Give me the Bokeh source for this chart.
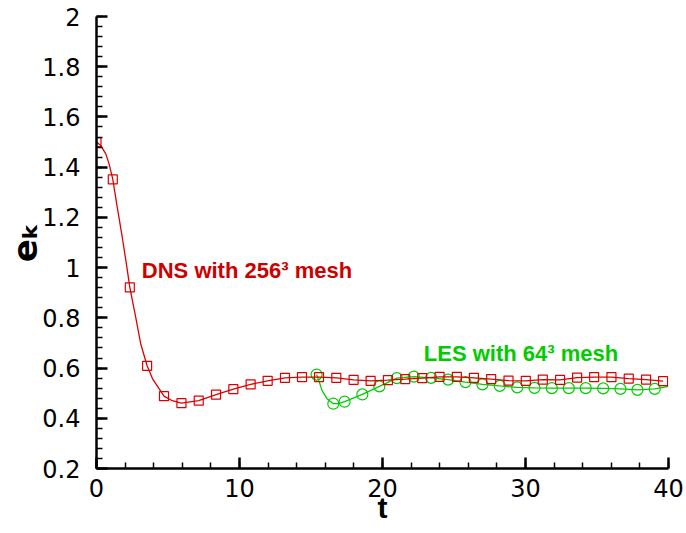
from bokeh.plotting import figure
from bokeh.models import FixedTicker, CustomJSTickFormatter, Label, Range1d
from bokeh.embed import file_html
from bokeh.resources import INLINE

# DNS (256^3) markers
dns_t = [0.0, 1.14, 2.33, 3.54, 4.72, 5.94, 7.15, 8.36, 9.57, 10.78, 11.97, 13.18,
         14.37, 15.56, 16.77, 17.98, 19.17, 20.38, 21.59, 22.78, 23.99, 25.20, 26.39,
         27.60, 28.81, 30.02, 31.21, 32.42, 33.61, 34.80, 36.01, 37.22, 38.43, 39.62]
dns_e = [1.500, 1.351, 0.921, 0.609, 0.488, 0.460, 0.470, 0.494, 0.516, 0.535, 0.549, 0.561,
         0.564, 0.564, 0.561, 0.553, 0.549, 0.552, 0.556, 0.560, 0.565, 0.565, 0.561,
         0.556, 0.550, 0.549, 0.554, 0.553, 0.562, 0.564, 0.564, 0.558, 0.554, 0.548]

# DNS curve (denser at the start)
dns_line_t = [0.0, 0.30, 0.65, 0.88, 1.14, 1.45, 1.80, 2.09, 2.33, 2.74, 3.09, 3.54, 3.92,
              4.72, 5.30, 5.94, 7.15, 8.36, 9.57, 10.78, 11.97, 13.18, 14.37, 15.56, 16.77,
              17.98, 19.17, 20.38, 21.59, 22.78, 23.99, 25.20, 26.39, 27.60, 28.81, 30.02,
              31.21, 32.42, 33.61, 34.80, 36.01, 37.22, 38.43, 39.62]
dns_line_e = [1.500, 1.486, 1.453, 1.413, 1.351, 1.241, 1.121, 1.015, 0.921, 0.803, 0.697,
              0.609, 0.557, 0.488, 0.470, 0.460, 0.470, 0.494, 0.516, 0.535, 0.549, 0.561,
              0.564, 0.564, 0.561, 0.553, 0.549, 0.552, 0.556, 0.560, 0.565, 0.565, 0.561,
              0.556, 0.550, 0.549, 0.554, 0.553, 0.562, 0.564, 0.564, 0.558, 0.554, 0.548]

# LES (64^3) markers
les_t = [15.39, 16.56, 17.35, 18.59, 19.78, 21.00, 22.19, 23.40, 24.59, 25.80, 26.99,
         28.20, 29.42, 30.63, 31.84, 33.03, 34.21, 35.43, 36.64, 37.83, 39.04]
les_e = [0.574, 0.458, 0.466, 0.495, 0.527, 0.560, 0.566, 0.561, 0.554, 0.544, 0.535,
         0.529, 0.523, 0.521, 0.520, 0.520, 0.520, 0.519, 0.517, 0.513, 0.517]

# LES curve
les_line_t = [15.39, 15.55, 15.77, 16.12, 16.56, 16.90, 17.35, 18.59, 19.78, 21.00, 22.19,
              23.40, 24.59, 25.80, 26.99, 28.20, 29.42, 30.63, 31.84, 33.03, 34.21, 35.43,
              36.64, 37.83, 39.04, 40.0]
les_line_e = [0.574, 0.550, 0.511, 0.478, 0.458, 0.458, 0.466, 0.495, 0.527, 0.560, 0.566,
              0.561, 0.554, 0.544, 0.535, 0.529, 0.523, 0.521, 0.520, 0.520, 0.520, 0.519,
              0.517, 0.513, 0.517, 0.527]

x_major = [0, 10, 20, 30, 40]
x_minor = [v for v in range(0, 41, 2)]
y_major = [0.2, 0.4, 0.6, 0.8, 1.0, 1.2, 1.4, 1.6, 1.8, 2.0]
y_minor = [round(0.2 + 0.04 * i, 2) for i in range(46)]

x_title = "t"
y_title = "e\u2096"

RED = "#dd0000"
GREEN = "#00cc00"
FONT = "Liberation Sans"
TICK_FONT = "DejaVu Sans"

p = figure(width=685, height=532, output_backend="svg", toolbar_location=None,
           x_range=Range1d(0, 40), y_range=Range1d(0.2, 2.0),
           min_border_left=96, min_border_right=17, min_border_top=16, min_border_bottom=64)
p.outline_line_color = None
p.xgrid.visible = False
p.ygrid.visible = False

for ax in (p.xaxis[0], p.yaxis[0]):
    ax.axis_line_width = 2.5
    ax.axis_line_color = "black"
    ax.major_tick_in = 11
    ax.major_tick_out = 0
    ax.minor_tick_in = 6
    ax.minor_tick_out = 0
    ax.major_tick_line_width = 2.5
    ax.minor_tick_line_width = 1.5
    ax.major_label_text_font = TICK_FONT
    ax.major_label_text_font_size = "24px"
    ax.major_label_text_color = "black"
    ax.axis_label_text_font_style = "bold"
    ax.axis_label_text_color = "black"

p.xaxis.ticker = FixedTicker(ticks=x_major, minor_ticks=x_minor)
p.yaxis.ticker = FixedTicker(ticks=y_major, minor_ticks=y_minor)
p.yaxis.formatter = CustomJSTickFormatter(code="return tick.toFixed(1).replace(/\\.0$/, '');")
p.xaxis.formatter = CustomJSTickFormatter(code="return tick.toFixed(0);")
p.xaxis.major_label_standoff = 10
p.yaxis.major_label_standoff = 16

p.xaxis.axis_label = x_title
p.xaxis.axis_label_text_font = FONT
p.xaxis.axis_label_text_font_size = "30px"
p.xaxis.axis_label_standoff = -9

p.yaxis.axis_label = y_title
p.yaxis.axis_label_text_font = "DejaVu Sans"
p.yaxis.axis_label_text_font_size = "34px"
p.yaxis.axis_label_standoff = -6

# curves
p.line(les_line_t, les_line_e, line_color=GREEN, line_width=1.3)
p.scatter(les_t, les_e, marker="circle", size=11, fill_color=None, line_color=GREEN, line_width=1.2)
p.line(dns_line_t, dns_line_e, line_color=RED, line_width=1.3)
p.scatter(dns_t, dns_e, marker="square", size=9, fill_color=None, line_color=RED, line_width=1.2)

# annotations
p.add_layout(Label(x=3.17, y=0.989, text="DNS with 256\u00b3 mesh", text_font=FONT,
                   text_font_style="bold", text_font_size="22px", text_color="#cc0000",
                   text_baseline="alphabetic"))
p.add_layout(Label(x=22.89, y=0.659, text="LES with 64\u00b3 mesh", text_font=FONT,
                   text_font_style="bold", text_font_size="22px", text_color=GREEN,
                   text_baseline="alphabetic"))

open("out.html", "w").write(file_html(p, INLINE))
